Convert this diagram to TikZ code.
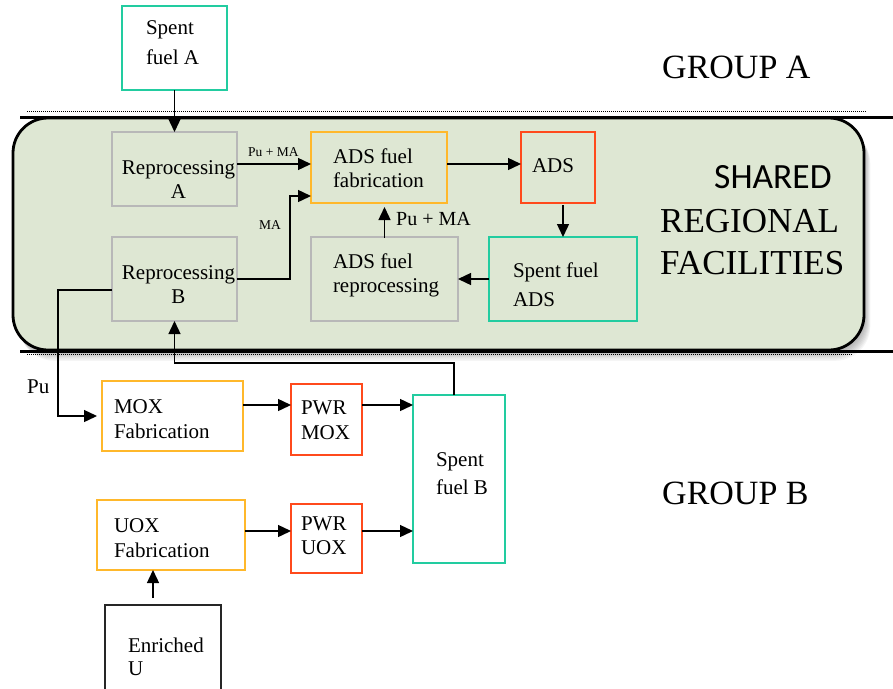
\documentclass[tikz,border=0pt]{standalone}
\usepackage{fontspec}
\setmainfont{Liberation Serif}
\newfontfamily\carl{Carlito}
\usetikzlibrary{arrows.meta,calc}
\definecolor{tealb}{HTML}{22CCA0}
\definecolor{orng}{HTML}{FFB82B}
\definecolor{redo}{HTML}{FF4A1C}
\definecolor{grayb}{HTML}{B8B8B8}
\definecolor{shfill}{HTML}{DEE7D3}
\tikzset{
  box/.style={draw, line width=1.4pt, inner sep=0pt, outer sep=0pt},
  tealbox/.style={box, draw=tealb},
  orbox/.style={box, draw=orng},
  redbox/.style={box, draw=redo},
  graybox/.style={box, draw=grayb},
  txt/.style={inner sep=0pt, outer sep=0pt, align=left, anchor=north west},
  big/.style={font=\fontsize{21}{#1}\selectfont},
  arr/.style={line width=1.4pt, -{Triangle[length=13pt,width=12pt]}},
  lbl/.style={inner sep=0pt, anchor=base west},
}
\begin{document}
\begin{tikzpicture}[x=1pt,y=-1pt]
\useasboundingbox (0,0) rectangle (893,688);
\clip (0,0) rectangle (893,688);
% shadow of the shared region
\foreach \i in {1,...,9}
  \fill[black, opacity=0.04, rounded corners=35pt]
    (13+\i*0.7,118+\i*1.2) rectangle (864+\i*0.7,350+\i*1.2);
% shared region
\node[draw, line width=2.8pt, fill=shfill, rounded corners=35pt,
      minimum width=851pt, minimum height=232pt, inner sep=0pt] (shared) at (438.5,234) {};
% separator lines
\draw[line width=0.8pt, dash pattern=on 1pt off 1pt] (27,111) -- (866,111);
\draw[line width=3pt] (20,117) -- (893,117);
\draw[line width=0.8pt, dash pattern=on 1pt off 1pt] (27,354) -- (853,354);
\draw[line width=3pt] (20,351) -- (893,351);

% boxes
\node[tealbox, fill=white, minimum width=105pt, minimum height=84pt] (sfa) at (174.5,48) {};
\node[graybox, minimum width=125pt, minimum height=74pt] (repA) at (174.5,169) {};
\node[graybox, minimum width=125pt, minimum height=84pt] (repB) at (174.5,279) {};
\node[orbox, minimum width=136pt, minimum height=71pt] (fab) at (379,167.5) {};
\node[graybox, minimum width=147pt, minimum height=84pt] (adsrep) at (384.5,279) {};
\node[redbox, minimum width=74pt, minimum height=71pt] (ads) at (558,167.5) {};
\node[tealbox, minimum width=148pt, minimum height=84pt] (sfads) at (563,279) {};
\node[orbox, minimum width=141pt, minimum height=70pt] (mox) at (172.5,416) {};
\node[redbox, minimum width=71pt, minimum height=71pt] (pwrmox) at (326.5,419.5) {};
\node[tealbox, minimum width=92pt, minimum height=168pt] (sfb) at (459,479) {};
\node[orbox, minimum width=148pt, minimum height=70pt] (uox) at (171,535) {};
\node[redbox, minimum width=71pt, minimum height=69pt] (pwruox) at (326.5,538.5) {};
\node[box, draw=black!85, minimum width=116pt, minimum height=100pt] (enr) at (163,655) {};

% box texts
\node[txt, big=30] (sfat) at (146,21) {Spent\\fuel A};
\node[txt, big=24, align=center, anchor=north] (repAt) at (178.5,161) {Reprocessing\\A};
\node[txt, big=23.5, align=center, anchor=north] (repBt) at (178.5,266) {Reprocessing\\B};
\node[txt, big=24] (fabt) at (333,149) {ADS fuel\\fabrication};
\node[txt, big=24] (adsrept) at (333,254) {ADS fuel\\reprocessing};
\node[txt, big=24] (adst) at (532,159) {ADS};
\node[txt, big=29] (sfadst) at (513,263) {Spent fuel\\ADS};
\node[txt, big=25] (moxt) at (114,400) {MOX\\Fabrication};
\node[txt, big=25] (pwrmoxt) at (301,401) {PWR\\MOX};
\node[txt, big=28] (sfbt) at (436,453) {Spent\\fuel B};
\node[txt, big=25] (uoxt) at (114,519) {UOX\\Fabrication};
\node[txt, big=24] (pwruoxt) at (301,517) {PWR\\UOX};
\node[txt, big=23] (enrt) at (128,638) {Enriched\\U};

% labels
\node[lbl, font=\fontsize{13.5}{16}\selectfont] (l1) at (248,156) {Pu + MA};
\node[lbl, font=\fontsize{13.5}{16}\selectfont] (l2) at (259,229) {MA};
\node[lbl, font=\fontsize{20}{24}\selectfont] (l3) at (396,225) {Pu + MA};
\node[lbl, font=\fontsize{21}{24}\selectfont] (l4) at (27,393) {Pu};
\node[lbl, font=\carl\fontsize{35.5}{40}\selectfont] (shr) at (714,188) {SHARED};
\node[lbl, font=\fontsize{35}{40}\selectfont] (reg) at (660,232) {REGIONAL};
\node[lbl, font=\fontsize{35}{40}\selectfont] (fac) at (660,274) {FACILITIES};
\node[lbl, font=\fontsize{34}{40}\selectfont] (ga) at (662,78) {GROUP A};
\node[lbl, font=\fontsize{34}{40}\selectfont] (gb) at (662,504) {GROUP B};

% connectors
\draw[arr] (sfa.south) -- (repA.north);
\draw[arr] ([yshift=5pt]repA.east) -- ([yshift=5pt]repA.east -| fab.west);
\draw[arr] (repB.east) -- ++(53,0) |- ([yshift=7pt]fab.south west);
\draw[arr] ([yshift=3.5pt]fab.east) -- ([yshift=3.5pt]ads.west);
\draw[arr] ([yshift=-2pt]sfads.north |- ads.south) -- (sfads.north);
\draw[arr] (sfads.west) -- (adsrep.east);
\draw[arr] ([yshift=-1pt]adsrep.north) -- ([yshift=-4pt]adsrep.north |- fab.south);
\draw[arr] ([yshift=-11pt]repB.west) -- ++(-54,0) |- ([xshift=-5pt]mox.west);
\draw[arr] ([xshift=-5pt]sfb.north) -- ++(0,-32) -| (repB.south);
\draw[arr] ([yshift=11pt]mox.east) -- ([yshift=11pt]mox.east -| pwrmox.west);
\draw[arr] ([yshift=14.5pt]pwrmox.east) -- ([yshift=14.5pt]pwrmox.east -| sfb.west);
\draw[arr] ([yshift=4pt]uox.east) -- ([yshift=4pt]uox.east -| pwruox.west);
\draw[arr] ([yshift=7.5pt]pwruox.east) -- ([yshift=7.5pt]pwruox.east -| sfb.west);
\draw[arr] ([xshift=-10pt,yshift=7pt]enr.north) -- ([xshift=-10pt]enr.north |- uox.south);
\end{tikzpicture}
\end{document}
